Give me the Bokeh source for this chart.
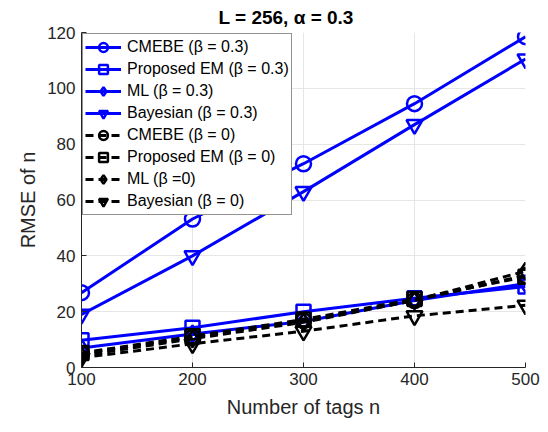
from bokeh.plotting import figure
from bokeh.models import Legend, LegendItem, FixedTicker, Range1d, Title
from bokeh.embed import file_html
from bokeh.resources import INLINE

n_tags = [100, 200, 300, 400, 500]
cmebe_03 = [26.8, 53.2, 73.0, 94.5, 118.5]
em_03 = [9.8, 14.2, 20.0, 24.8, 29.0]
ml_03 = [7.0, 12.0, 16.5, 24.0, 30.0]
bayes_03 = [19.0, 40.0, 63.0, 87.0, 110.5]
cmebe_0 = [5.0, 10.8, 16.8, 24.0, 33.0]
em_0 = [5.2, 11.2, 17.2, 24.5, 32.5]
ml_0 = [4.2, 10.3, 16.2, 24.0, 34.5]
bayes_0 = [3.5, 8.5, 13.0, 18.5, 22.3]

labels = ["CMEBE (β = 0.3)", "Proposed EM (β = 0.3)", "ML (β = 0.3)", "Bayesian (β = 0.3)",
          "CMEBE (β = 0)", "Proposed EM (β = 0)", "ML (β =0)", "Bayesian (β = 0)"]

FONT = "Liberation Sans"

p = figure(width=540, height=424, output_backend="svg", toolbar_location=None,
           x_range=Range1d(100, 500), y_range=Range1d(0, 120),
           min_border_left=81, min_border_right=15, min_border_top=2, min_border_bottom=57)
p.title = None
p.add_layout(Title(text="L = 256, α = 0.3", text_font=FONT, text_font_size="19px",
                   text_font_style="bold", align="left", offset=137, standoff=9,
                   text_color="black"), "above")

p.outline_line_color = None
for ax in (p.xaxis, p.yaxis):
    ax.axis_line_color = "#262626"
    ax.major_tick_line_color = "#262626"
    ax.major_tick_in = 5
    ax.major_tick_out = 0
    ax.minor_tick_line_color = None
    ax.major_label_text_font = FONT
    ax.major_label_text_font_size = "17px"
    ax.major_label_text_color = "#262626"
    ax.axis_label_text_font = FONT
    ax.axis_label_text_font_size = "20px"
    ax.axis_label_text_font_style = "normal"
    ax.axis_label_text_color = "#262626"
p.xaxis.ticker = FixedTicker(ticks=n_tags)
p.yaxis.ticker = FixedTicker(ticks=[0, 20, 40, 60, 80, 100, 120])
p.xaxis.axis_label = "Number of tags n"
p.yaxis.axis_label = "RMSE of n"
p.xaxis.major_label_standoff = 5
p.xaxis.axis_label_standoff = 8
p.yaxis.major_label_standoff = 6
p.xgrid.grid_line_color = "#e6e6e6"
p.ygrid.grid_line_color = "#e6e6e6"

series = [cmebe_03, em_03, ml_03, bayes_03, cmebe_0, em_0, ml_0, bayes_0]
markers = ["circle", "square", "diamond", "inverted_triangle"] * 2
sizes = [15, 14, 17, 16] * 2
items = []
for i, (ys, mk, sz, lab) in enumerate(zip(series, markers, sizes, labels)):
    color = "#0000ff" if i < 4 else "black"
    dash = "solid" if i < 4 else "8 5"
    r1 = p.line(n_tags, ys, line_color=color, line_width=3, line_dash=dash)
    r2 = p.scatter(n_tags, ys, marker=mk, size=sz, line_color=color, line_width=2.5,
                   fill_color=None)
    items.append(LegendItem(label=lab, renderers=[r1, r2]))

leg = Legend(items=items, location="top_left", margin=1, padding=2, spacing=0,
             label_text_font=FONT, label_text_font_size="16px", label_text_color="black",
             glyph_width=36, glyph_height=22, label_height=22, label_standoff=6,
             border_line_color="#262626", border_line_width=1,
             background_fill_color="white", background_fill_alpha=1)
p.add_layout(leg)

open("out.html", "w").write(file_html(p, INLINE))
